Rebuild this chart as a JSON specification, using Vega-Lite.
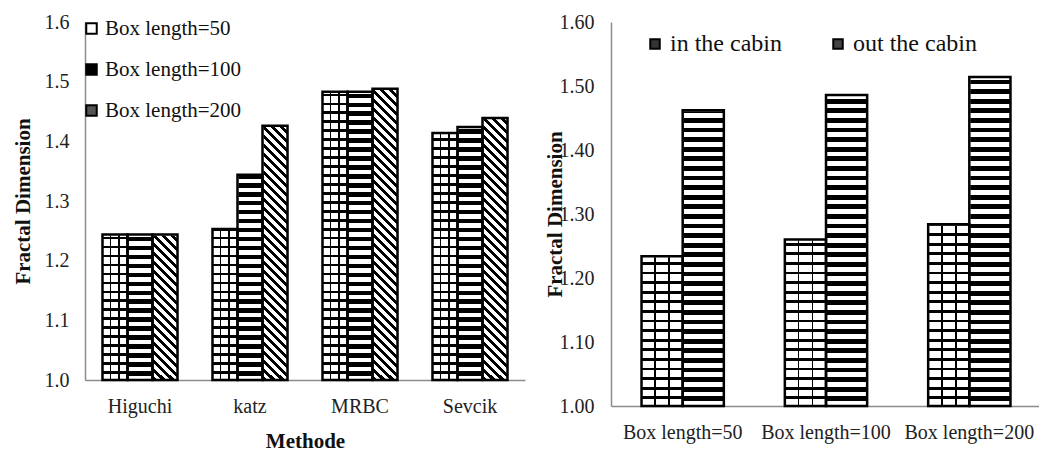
{
"$schema": "https://vega.github.io/schema/vega-lite/v6.json",
"background": "white",
"padding": {"left": 12, "top": 12, "right": 0, "bottom": 0},
"config": {
  "view": {"stroke": null},
  "font": "Liberation Serif",
  "concat": {"spacing": 19},
  "style": {"guide-label": {"font": "Liberation Serif"}, "guide-title": {"font": "Liberation Serif"}},
  "axis": {"labelFont": "Liberation Serif", "titleFont": "Liberation Serif", "labelColor": "#222", "titleColor": "#111", "domainColor": "#8c8c8c", "domainWidth": 1.5, "ticks": false, "grid": false},
  "axisBand": {"grid": false},
  "axisX": {"grid": false},
  "legend": {"labelFont": "Liberation Serif", "labelColor": "#111", "padding": 0}
},
"datasets": {
  "left": [
    {"method": "Higuchi", "box": "Box length=50", "value": 1.244},
    {"method": "Higuchi", "box": "Box length=100", "value": 1.244},
    {"method": "Higuchi", "box": "Box length=200", "value": 1.244},
    {"method": "katz", "box": "Box length=50", "value": 1.253},
    {"method": "katz", "box": "Box length=100", "value": 1.344},
    {"method": "katz", "box": "Box length=200", "value": 1.426},
    {"method": "MRBC", "box": "Box length=50", "value": 1.483},
    {"method": "MRBC", "box": "Box length=100", "value": 1.483},
    {"method": "MRBC", "box": "Box length=200", "value": 1.488},
    {"method": "Sevcik", "box": "Box length=50", "value": 1.414},
    {"method": "Sevcik", "box": "Box length=100", "value": 1.424},
    {"method": "Sevcik", "box": "Box length=200", "value": 1.439}
  ],
  "right": [
    {"box": "Box length=50", "loc": "in the cabin", "value": 1.234},
    {"box": "Box length=50", "loc": "out the cabin", "value": 1.462},
    {"box": "Box length=100", "loc": "in the cabin", "value": 1.26},
    {"box": "Box length=100", "loc": "out the cabin", "value": 1.486},
    {"box": "Box length=200", "loc": "in the cabin", "value": 1.284},
    {"box": "Box length=200", "loc": "out the cabin", "value": 1.514}
  ]
},
"resolve": {"scale": {"x": "independent", "y": "independent", "xOffset": "independent", "fill": "independent"}, "legend": {"fill": "independent"}},
"hconcat": [
{
  "width": 440, "height": 358,
  "data": {"name": "left"},
  "encoding": {
    "x": {"field": "method", "type": "nominal", "sort": ["Higuchi", "katz", "MRBC", "Sevcik"], "scale": {"paddingInner": 0.318, "paddingOuter": 0.159},
          "axis": {"title": "Methode", "grid": false, "labelAngle": 0, "labelFont": "Liberation Serif", "titleFont": "Liberation Serif", "labelFontSize": 20, "labelPadding": 16, "titleFontSize": 21, "titleFontWeight": "bold", "titlePadding": 14}},
    "xOffset": {"field": "box", "type": "nominal", "scale": {"domain": ["Box length=50", "Box length=100", "Box length=200"], "paddingInner": 0, "paddingOuter": 0}}
  },
  "layer": [
    {"transform": [{"filter": "datum.box === 'Box length=50'"}],
     "mark": {"type": "bar", "strokeWidth": 0, "fill": {"gradient": "linear", "x1": 0, "y1": 0, "x2": 0, "y2": 1, "stops": [
{"offset":0,"color":"#000"},{"offset":0.0075,"color":"#000"},{"offset":0.0075,"color":"#fff"},{"offset":0.025,"color":"#fff"},
{"offset":0.025,"color":"#000"},{"offset":0.0325,"color":"#000"},{"offset":0.0325,"color":"#fff"},{"offset":0.05,"color":"#fff"},
{"offset":0.05,"color":"#000"},{"offset":0.0575,"color":"#000"},{"offset":0.0575,"color":"#fff"},{"offset":0.075,"color":"#fff"},
{"offset":0.075,"color":"#000"},{"offset":0.0825,"color":"#000"},{"offset":0.0825,"color":"#fff"},{"offset":0.1,"color":"#fff"},
{"offset":0.1,"color":"#000"},{"offset":0.1075,"color":"#000"},{"offset":0.1075,"color":"#fff"},{"offset":0.125,"color":"#fff"},
{"offset":0.125,"color":"#000"},{"offset":0.1325,"color":"#000"},{"offset":0.1325,"color":"#fff"},{"offset":0.15,"color":"#fff"},
{"offset":0.15,"color":"#000"},{"offset":0.1575,"color":"#000"},{"offset":0.1575,"color":"#fff"},{"offset":0.175,"color":"#fff"},
{"offset":0.175,"color":"#000"},{"offset":0.1825,"color":"#000"},{"offset":0.1825,"color":"#fff"},{"offset":0.2,"color":"#fff"},
{"offset":0.2,"color":"#000"},{"offset":0.2075,"color":"#000"},{"offset":0.2075,"color":"#fff"},{"offset":0.225,"color":"#fff"},
{"offset":0.225,"color":"#000"},{"offset":0.2325,"color":"#000"},{"offset":0.2325,"color":"#fff"},{"offset":0.25,"color":"#fff"},
{"offset":0.25,"color":"#000"},{"offset":0.2575,"color":"#000"},{"offset":0.2575,"color":"#fff"},{"offset":0.275,"color":"#fff"},
{"offset":0.275,"color":"#000"},{"offset":0.2825,"color":"#000"},{"offset":0.2825,"color":"#fff"},{"offset":0.3,"color":"#fff"},
{"offset":0.3,"color":"#000"},{"offset":0.3075,"color":"#000"},{"offset":0.3075,"color":"#fff"},{"offset":0.325,"color":"#fff"},
{"offset":0.325,"color":"#000"},{"offset":0.3325,"color":"#000"},{"offset":0.3325,"color":"#fff"},{"offset":0.35,"color":"#fff"},
{"offset":0.35,"color":"#000"},{"offset":0.3575,"color":"#000"},{"offset":0.3575,"color":"#fff"},{"offset":0.375,"color":"#fff"},
{"offset":0.375,"color":"#000"},{"offset":0.3825,"color":"#000"},{"offset":0.3825,"color":"#fff"},{"offset":0.4,"color":"#fff"},
{"offset":0.4,"color":"#000"},{"offset":0.4075,"color":"#000"},{"offset":0.4075,"color":"#fff"},{"offset":0.425,"color":"#fff"},
{"offset":0.425,"color":"#000"},{"offset":0.4325,"color":"#000"},{"offset":0.4325,"color":"#fff"},{"offset":0.45,"color":"#fff"},
{"offset":0.45,"color":"#000"},{"offset":0.4575,"color":"#000"},{"offset":0.4575,"color":"#fff"},{"offset":0.475,"color":"#fff"},
{"offset":0.475,"color":"#000"},{"offset":0.4825,"color":"#000"},{"offset":0.4825,"color":"#fff"},{"offset":0.5,"color":"#fff"},
{"offset":0.5,"color":"#000"},{"offset":0.5075,"color":"#000"},{"offset":0.5075,"color":"#fff"},{"offset":0.525,"color":"#fff"},
{"offset":0.525,"color":"#000"},{"offset":0.5325,"color":"#000"},{"offset":0.5325,"color":"#fff"},{"offset":0.55,"color":"#fff"},
{"offset":0.55,"color":"#000"},{"offset":0.5575,"color":"#000"},{"offset":0.5575,"color":"#fff"},{"offset":0.575,"color":"#fff"},
{"offset":0.575,"color":"#000"},{"offset":0.5825,"color":"#000"},{"offset":0.5825,"color":"#fff"},{"offset":0.6,"color":"#fff"},
{"offset":0.6,"color":"#000"},{"offset":0.6075,"color":"#000"},{"offset":0.6075,"color":"#fff"},{"offset":0.625,"color":"#fff"},
{"offset":0.625,"color":"#000"},{"offset":0.6325,"color":"#000"},{"offset":0.6325,"color":"#fff"},{"offset":0.65,"color":"#fff"},
{"offset":0.65,"color":"#000"},{"offset":0.6575,"color":"#000"},{"offset":0.6575,"color":"#fff"},{"offset":0.675,"color":"#fff"},
{"offset":0.675,"color":"#000"},{"offset":0.6825,"color":"#000"},{"offset":0.6825,"color":"#fff"},{"offset":0.7,"color":"#fff"},
{"offset":0.7,"color":"#000"},{"offset":0.7075,"color":"#000"},{"offset":0.7075,"color":"#fff"},{"offset":0.725,"color":"#fff"},
{"offset":0.725,"color":"#000"},{"offset":0.7325,"color":"#000"},{"offset":0.7325,"color":"#fff"},{"offset":0.75,"color":"#fff"},
{"offset":0.75,"color":"#000"},{"offset":0.7575,"color":"#000"},{"offset":0.7575,"color":"#fff"},{"offset":0.775,"color":"#fff"},
{"offset":0.775,"color":"#000"},{"offset":0.7825,"color":"#000"},{"offset":0.7825,"color":"#fff"},{"offset":0.8,"color":"#fff"},
{"offset":0.8,"color":"#000"},{"offset":0.8075,"color":"#000"},{"offset":0.8075,"color":"#fff"},{"offset":0.825,"color":"#fff"},
{"offset":0.825,"color":"#000"},{"offset":0.8325,"color":"#000"},{"offset":0.8325,"color":"#fff"},{"offset":0.85,"color":"#fff"},
{"offset":0.85,"color":"#000"},{"offset":0.8575,"color":"#000"},{"offset":0.8575,"color":"#fff"},{"offset":0.875,"color":"#fff"},
{"offset":0.875,"color":"#000"},{"offset":0.8825,"color":"#000"},{"offset":0.8825,"color":"#fff"},{"offset":0.9,"color":"#fff"},
{"offset":0.9,"color":"#000"},{"offset":0.9075,"color":"#000"},{"offset":0.9075,"color":"#fff"},{"offset":0.925,"color":"#fff"},
{"offset":0.925,"color":"#000"},{"offset":0.9325,"color":"#000"},{"offset":0.9325,"color":"#fff"},{"offset":0.95,"color":"#fff"},
{"offset":0.95,"color":"#000"},{"offset":0.9575,"color":"#000"},{"offset":0.9575,"color":"#fff"},{"offset":0.975,"color":"#fff"},
{"offset":0.975,"color":"#000"},{"offset":0.9825,"color":"#000"},{"offset":0.9825,"color":"#fff"},{"offset":1,"color":"#fff"}
     ]}},
     "encoding": {
       "y": {"datum": 1.6, "type": "quantitative", "title": "Fractal Dimension",
             "scale": {"domain": [1.0, 1.6], "zero": false, "nice": false},
             "axis": {"values": [1.0, 1.1, 1.2, 1.3, 1.4, 1.5, 1.6], "format": ".1f", "grid": false, "labelFont": "Liberation Serif", "titleFont": "Liberation Serif", "labelFontSize": 20, "labelPadding": 16, "titleFontSize": 21, "titleFontWeight": "bold", "titleX": -52}},
       "y2": {"datum": 1.0}
     }},
    {"transform": [{"filter": "datum.box === 'Box length=50'"}],
     "mark": {"type": "bar", "strokeWidth": 0, "fill": {"gradient": "linear", "x1": 0, "y1": 0, "x2": 1, "y2": 0, "stops": [
{"offset":0,"color":"rgba(0,0,0,0)"},{"offset":0.3,"color":"rgba(0,0,0,0)"},{"offset":0.3,"color":"#000"},{"offset":0.36,"color":"#000"},{"offset":0.36,"color":"rgba(0,0,0,0)"},
{"offset":0.64,"color":"rgba(0,0,0,0)"},{"offset":0.64,"color":"#000"},{"offset":0.7,"color":"#000"},{"offset":0.7,"color":"rgba(0,0,0,0)"},{"offset":1,"color":"rgba(0,0,0,0)"}
     ]}},
     "encoding": {"y": {"datum": 1.6, "type": "quantitative", "title": "Fractal Dimension"}, "y2": {"datum": 1.0}}},
    {"transform": [{"filter": "datum.box === 'Box length=100'"}],
     "mark": {"type": "bar", "strokeWidth": 0, "fill": {"gradient": "linear", "x1": 0, "y1": 0, "x2": 0, "y2": 1, "stops": [
{"offset":0,"color":"#000"},{"offset":0.0125,"color":"#000"},{"offset":0.0125,"color":"#fff"},{"offset":0.025,"color":"#fff"},
{"offset":0.025,"color":"#000"},{"offset":0.0375,"color":"#000"},{"offset":0.0375,"color":"#fff"},{"offset":0.05,"color":"#fff"},
{"offset":0.05,"color":"#000"},{"offset":0.0625,"color":"#000"},{"offset":0.0625,"color":"#fff"},{"offset":0.075,"color":"#fff"},
{"offset":0.075,"color":"#000"},{"offset":0.0875,"color":"#000"},{"offset":0.0875,"color":"#fff"},{"offset":0.1,"color":"#fff"},
{"offset":0.1,"color":"#000"},{"offset":0.1125,"color":"#000"},{"offset":0.1125,"color":"#fff"},{"offset":0.125,"color":"#fff"},
{"offset":0.125,"color":"#000"},{"offset":0.1375,"color":"#000"},{"offset":0.1375,"color":"#fff"},{"offset":0.15,"color":"#fff"},
{"offset":0.15,"color":"#000"},{"offset":0.1625,"color":"#000"},{"offset":0.1625,"color":"#fff"},{"offset":0.175,"color":"#fff"},
{"offset":0.175,"color":"#000"},{"offset":0.1875,"color":"#000"},{"offset":0.1875,"color":"#fff"},{"offset":0.2,"color":"#fff"},
{"offset":0.2,"color":"#000"},{"offset":0.2125,"color":"#000"},{"offset":0.2125,"color":"#fff"},{"offset":0.225,"color":"#fff"},
{"offset":0.225,"color":"#000"},{"offset":0.2375,"color":"#000"},{"offset":0.2375,"color":"#fff"},{"offset":0.25,"color":"#fff"},
{"offset":0.25,"color":"#000"},{"offset":0.2625,"color":"#000"},{"offset":0.2625,"color":"#fff"},{"offset":0.275,"color":"#fff"},
{"offset":0.275,"color":"#000"},{"offset":0.2875,"color":"#000"},{"offset":0.2875,"color":"#fff"},{"offset":0.3,"color":"#fff"},
{"offset":0.3,"color":"#000"},{"offset":0.3125,"color":"#000"},{"offset":0.3125,"color":"#fff"},{"offset":0.325,"color":"#fff"},
{"offset":0.325,"color":"#000"},{"offset":0.3375,"color":"#000"},{"offset":0.3375,"color":"#fff"},{"offset":0.35,"color":"#fff"},
{"offset":0.35,"color":"#000"},{"offset":0.3625,"color":"#000"},{"offset":0.3625,"color":"#fff"},{"offset":0.375,"color":"#fff"},
{"offset":0.375,"color":"#000"},{"offset":0.3875,"color":"#000"},{"offset":0.3875,"color":"#fff"},{"offset":0.4,"color":"#fff"},
{"offset":0.4,"color":"#000"},{"offset":0.4125,"color":"#000"},{"offset":0.4125,"color":"#fff"},{"offset":0.425,"color":"#fff"},
{"offset":0.425,"color":"#000"},{"offset":0.4375,"color":"#000"},{"offset":0.4375,"color":"#fff"},{"offset":0.45,"color":"#fff"},
{"offset":0.45,"color":"#000"},{"offset":0.4625,"color":"#000"},{"offset":0.4625,"color":"#fff"},{"offset":0.475,"color":"#fff"},
{"offset":0.475,"color":"#000"},{"offset":0.4875,"color":"#000"},{"offset":0.4875,"color":"#fff"},{"offset":0.5,"color":"#fff"},
{"offset":0.5,"color":"#000"},{"offset":0.5125,"color":"#000"},{"offset":0.5125,"color":"#fff"},{"offset":0.525,"color":"#fff"},
{"offset":0.525,"color":"#000"},{"offset":0.5375,"color":"#000"},{"offset":0.5375,"color":"#fff"},{"offset":0.55,"color":"#fff"},
{"offset":0.55,"color":"#000"},{"offset":0.5625,"color":"#000"},{"offset":0.5625,"color":"#fff"},{"offset":0.575,"color":"#fff"},
{"offset":0.575,"color":"#000"},{"offset":0.5875,"color":"#000"},{"offset":0.5875,"color":"#fff"},{"offset":0.6,"color":"#fff"},
{"offset":0.6,"color":"#000"},{"offset":0.6125,"color":"#000"},{"offset":0.6125,"color":"#fff"},{"offset":0.625,"color":"#fff"},
{"offset":0.625,"color":"#000"},{"offset":0.6375,"color":"#000"},{"offset":0.6375,"color":"#fff"},{"offset":0.65,"color":"#fff"},
{"offset":0.65,"color":"#000"},{"offset":0.6625,"color":"#000"},{"offset":0.6625,"color":"#fff"},{"offset":0.675,"color":"#fff"},
{"offset":0.675,"color":"#000"},{"offset":0.6875,"color":"#000"},{"offset":0.6875,"color":"#fff"},{"offset":0.7,"color":"#fff"},
{"offset":0.7,"color":"#000"},{"offset":0.7125,"color":"#000"},{"offset":0.7125,"color":"#fff"},{"offset":0.725,"color":"#fff"},
{"offset":0.725,"color":"#000"},{"offset":0.7375,"color":"#000"},{"offset":0.7375,"color":"#fff"},{"offset":0.75,"color":"#fff"},
{"offset":0.75,"color":"#000"},{"offset":0.7625,"color":"#000"},{"offset":0.7625,"color":"#fff"},{"offset":0.775,"color":"#fff"},
{"offset":0.775,"color":"#000"},{"offset":0.7875,"color":"#000"},{"offset":0.7875,"color":"#fff"},{"offset":0.8,"color":"#fff"},
{"offset":0.8,"color":"#000"},{"offset":0.8125,"color":"#000"},{"offset":0.8125,"color":"#fff"},{"offset":0.825,"color":"#fff"},
{"offset":0.825,"color":"#000"},{"offset":0.8375,"color":"#000"},{"offset":0.8375,"color":"#fff"},{"offset":0.85,"color":"#fff"},
{"offset":0.85,"color":"#000"},{"offset":0.8625,"color":"#000"},{"offset":0.8625,"color":"#fff"},{"offset":0.875,"color":"#fff"},
{"offset":0.875,"color":"#000"},{"offset":0.8875,"color":"#000"},{"offset":0.8875,"color":"#fff"},{"offset":0.9,"color":"#fff"},
{"offset":0.9,"color":"#000"},{"offset":0.9125,"color":"#000"},{"offset":0.9125,"color":"#fff"},{"offset":0.925,"color":"#fff"},
{"offset":0.925,"color":"#000"},{"offset":0.9375,"color":"#000"},{"offset":0.9375,"color":"#fff"},{"offset":0.95,"color":"#fff"},
{"offset":0.95,"color":"#000"},{"offset":0.9625,"color":"#000"},{"offset":0.9625,"color":"#fff"},{"offset":0.975,"color":"#fff"},
{"offset":0.975,"color":"#000"},{"offset":0.9875,"color":"#000"},{"offset":0.9875,"color":"#fff"},{"offset":1,"color":"#fff"}
     ]}},
     "encoding": {"y": {"datum": 1.6, "type": "quantitative", "title": "Fractal Dimension"}, "y2": {"datum": 1.0}}},
    {"transform": [{"filter": "datum.box === 'Box length=200'"}],
     "mark": {"type": "bar", "strokeWidth": 0, "fill": {"gradient": "linear", "x1": 0, "y1": 1, "x2": 0.0698, "y2": 0, "stops": [
{"offset":0,"color":"#000"},{"offset":0.0125,"color":"#000"},{"offset":0.0125,"color":"#fff"},{"offset":0.025,"color":"#fff"},
{"offset":0.025,"color":"#000"},{"offset":0.0375,"color":"#000"},{"offset":0.0375,"color":"#fff"},{"offset":0.05,"color":"#fff"},
{"offset":0.05,"color":"#000"},{"offset":0.0625,"color":"#000"},{"offset":0.0625,"color":"#fff"},{"offset":0.075,"color":"#fff"},
{"offset":0.075,"color":"#000"},{"offset":0.0875,"color":"#000"},{"offset":0.0875,"color":"#fff"},{"offset":0.1,"color":"#fff"},
{"offset":0.1,"color":"#000"},{"offset":0.1125,"color":"#000"},{"offset":0.1125,"color":"#fff"},{"offset":0.125,"color":"#fff"},
{"offset":0.125,"color":"#000"},{"offset":0.1375,"color":"#000"},{"offset":0.1375,"color":"#fff"},{"offset":0.15,"color":"#fff"},
{"offset":0.15,"color":"#000"},{"offset":0.1625,"color":"#000"},{"offset":0.1625,"color":"#fff"},{"offset":0.175,"color":"#fff"},
{"offset":0.175,"color":"#000"},{"offset":0.1875,"color":"#000"},{"offset":0.1875,"color":"#fff"},{"offset":0.2,"color":"#fff"},
{"offset":0.2,"color":"#000"},{"offset":0.2125,"color":"#000"},{"offset":0.2125,"color":"#fff"},{"offset":0.225,"color":"#fff"},
{"offset":0.225,"color":"#000"},{"offset":0.2375,"color":"#000"},{"offset":0.2375,"color":"#fff"},{"offset":0.25,"color":"#fff"},
{"offset":0.25,"color":"#000"},{"offset":0.2625,"color":"#000"},{"offset":0.2625,"color":"#fff"},{"offset":0.275,"color":"#fff"},
{"offset":0.275,"color":"#000"},{"offset":0.2875,"color":"#000"},{"offset":0.2875,"color":"#fff"},{"offset":0.3,"color":"#fff"},
{"offset":0.3,"color":"#000"},{"offset":0.3125,"color":"#000"},{"offset":0.3125,"color":"#fff"},{"offset":0.325,"color":"#fff"},
{"offset":0.325,"color":"#000"},{"offset":0.3375,"color":"#000"},{"offset":0.3375,"color":"#fff"},{"offset":0.35,"color":"#fff"},
{"offset":0.35,"color":"#000"},{"offset":0.3625,"color":"#000"},{"offset":0.3625,"color":"#fff"},{"offset":0.375,"color":"#fff"},
{"offset":0.375,"color":"#000"},{"offset":0.3875,"color":"#000"},{"offset":0.3875,"color":"#fff"},{"offset":0.4,"color":"#fff"},
{"offset":0.4,"color":"#000"},{"offset":0.4125,"color":"#000"},{"offset":0.4125,"color":"#fff"},{"offset":0.425,"color":"#fff"},
{"offset":0.425,"color":"#000"},{"offset":0.4375,"color":"#000"},{"offset":0.4375,"color":"#fff"},{"offset":0.45,"color":"#fff"},
{"offset":0.45,"color":"#000"},{"offset":0.4625,"color":"#000"},{"offset":0.4625,"color":"#fff"},{"offset":0.475,"color":"#fff"},
{"offset":0.475,"color":"#000"},{"offset":0.4875,"color":"#000"},{"offset":0.4875,"color":"#fff"},{"offset":0.5,"color":"#fff"},
{"offset":0.5,"color":"#000"},{"offset":0.5125,"color":"#000"},{"offset":0.5125,"color":"#fff"},{"offset":0.525,"color":"#fff"},
{"offset":0.525,"color":"#000"},{"offset":0.5375,"color":"#000"},{"offset":0.5375,"color":"#fff"},{"offset":0.55,"color":"#fff"},
{"offset":0.55,"color":"#000"},{"offset":0.5625,"color":"#000"},{"offset":0.5625,"color":"#fff"},{"offset":0.575,"color":"#fff"},
{"offset":0.575,"color":"#000"},{"offset":0.5875,"color":"#000"},{"offset":0.5875,"color":"#fff"},{"offset":0.6,"color":"#fff"},
{"offset":0.6,"color":"#000"},{"offset":0.6125,"color":"#000"},{"offset":0.6125,"color":"#fff"},{"offset":0.625,"color":"#fff"},
{"offset":0.625,"color":"#000"},{"offset":0.6375,"color":"#000"},{"offset":0.6375,"color":"#fff"},{"offset":0.65,"color":"#fff"},
{"offset":0.65,"color":"#000"},{"offset":0.6625,"color":"#000"},{"offset":0.6625,"color":"#fff"},{"offset":0.675,"color":"#fff"},
{"offset":0.675,"color":"#000"},{"offset":0.6875,"color":"#000"},{"offset":0.6875,"color":"#fff"},{"offset":0.7,"color":"#fff"},
{"offset":0.7,"color":"#000"},{"offset":0.7125,"color":"#000"},{"offset":0.7125,"color":"#fff"},{"offset":0.725,"color":"#fff"},
{"offset":0.725,"color":"#000"},{"offset":0.7375,"color":"#000"},{"offset":0.7375,"color":"#fff"},{"offset":0.75,"color":"#fff"},
{"offset":0.75,"color":"#000"},{"offset":0.7625,"color":"#000"},{"offset":0.7625,"color":"#fff"},{"offset":0.775,"color":"#fff"},
{"offset":0.775,"color":"#000"},{"offset":0.7875,"color":"#000"},{"offset":0.7875,"color":"#fff"},{"offset":0.8,"color":"#fff"},
{"offset":0.8,"color":"#000"},{"offset":0.8125,"color":"#000"},{"offset":0.8125,"color":"#fff"},{"offset":0.825,"color":"#fff"},
{"offset":0.825,"color":"#000"},{"offset":0.8375,"color":"#000"},{"offset":0.8375,"color":"#fff"},{"offset":0.85,"color":"#fff"},
{"offset":0.85,"color":"#000"},{"offset":0.8625,"color":"#000"},{"offset":0.8625,"color":"#fff"},{"offset":0.875,"color":"#fff"},
{"offset":0.875,"color":"#000"},{"offset":0.8875,"color":"#000"},{"offset":0.8875,"color":"#fff"},{"offset":0.9,"color":"#fff"},
{"offset":0.9,"color":"#000"},{"offset":0.9125,"color":"#000"},{"offset":0.9125,"color":"#fff"},{"offset":0.925,"color":"#fff"},
{"offset":0.925,"color":"#000"},{"offset":0.9375,"color":"#000"},{"offset":0.9375,"color":"#fff"},{"offset":0.95,"color":"#fff"},
{"offset":0.95,"color":"#000"},{"offset":0.9625,"color":"#000"},{"offset":0.9625,"color":"#fff"},{"offset":0.975,"color":"#fff"},
{"offset":0.975,"color":"#000"},{"offset":0.9875,"color":"#000"},{"offset":0.9875,"color":"#fff"},{"offset":1,"color":"#fff"}
     ]}},
     "encoding": {"y": {"datum": 1.6, "type": "quantitative", "title": "Fractal Dimension"}, "y2": {"datum": 1.0}}},
    {"mark": {"type": "bar", "fill": "white", "stroke": "white", "strokeWidth": 2},
     "encoding": {"y": {"field": "value", "type": "quantitative", "title": "Fractal Dimension"}, "y2": {"datum": 1.6}}},
    {"mark": {"type": "bar", "stroke": "black", "strokeWidth": 2.5},
     "encoding": {
       "y": {"field": "value", "type": "quantitative", "title": "Fractal Dimension"},
       "y2": {"datum": 1.0},
       "fillOpacity": {"value": 0},
       "fill": {"field": "box", "type": "nominal",
                "scale": {"domain": ["Box length=50", "Box length=100", "Box length=200"], "range": ["white", "black", "#555555"]},
                "legend": {"title": null, "orient": "none", "legendX": -4, "legendY": -4, "direction": "vertical", "symbolType": "square", "symbolSize": 110, "symbolStrokeWidth": 2, "symbolStrokeColor": "black", "symbolOpacity": 1, "labelFont": "Liberation Serif", "labelFontSize": 21, "labelOffset": 3, "rowPadding": 19}}
     }}
  ]
},
{
  "width": 430, "height": 384,
  "data": {"name": "right"},
  "encoding": {
    "x": {"field": "box", "type": "nominal", "sort": ["Box length=50", "Box length=100", "Box length=200"], "scale": {"paddingInner": 0.4257, "paddingOuter": 0.213},
          "axis": {"title": null, "grid": false, "labelAngle": 0, "labelFont": "Liberation Serif", "labelFontSize": 20, "labelPadding": 16}},
    "xOffset": {"field": "loc", "type": "nominal", "scale": {"domain": ["in the cabin", "out the cabin"], "paddingInner": 0, "paddingOuter": 0}}
  },
  "layer": [
    {"transform": [{"filter": "datum.loc === 'in the cabin'"}],
     "mark": {"type": "bar", "strokeWidth": 0, "fill": {"gradient": "linear", "x1": 0, "y1": 0, "x2": 0, "y2": 1, "stops": [
{"offset":0,"color":"#000"},{"offset":0.0075,"color":"#000"},{"offset":0.0075,"color":"#fff"},{"offset":0.025,"color":"#fff"},
{"offset":0.025,"color":"#000"},{"offset":0.0325,"color":"#000"},{"offset":0.0325,"color":"#fff"},{"offset":0.05,"color":"#fff"},
{"offset":0.05,"color":"#000"},{"offset":0.0575,"color":"#000"},{"offset":0.0575,"color":"#fff"},{"offset":0.075,"color":"#fff"},
{"offset":0.075,"color":"#000"},{"offset":0.0825,"color":"#000"},{"offset":0.0825,"color":"#fff"},{"offset":0.1,"color":"#fff"},
{"offset":0.1,"color":"#000"},{"offset":0.1075,"color":"#000"},{"offset":0.1075,"color":"#fff"},{"offset":0.125,"color":"#fff"},
{"offset":0.125,"color":"#000"},{"offset":0.1325,"color":"#000"},{"offset":0.1325,"color":"#fff"},{"offset":0.15,"color":"#fff"},
{"offset":0.15,"color":"#000"},{"offset":0.1575,"color":"#000"},{"offset":0.1575,"color":"#fff"},{"offset":0.175,"color":"#fff"},
{"offset":0.175,"color":"#000"},{"offset":0.1825,"color":"#000"},{"offset":0.1825,"color":"#fff"},{"offset":0.2,"color":"#fff"},
{"offset":0.2,"color":"#000"},{"offset":0.2075,"color":"#000"},{"offset":0.2075,"color":"#fff"},{"offset":0.225,"color":"#fff"},
{"offset":0.225,"color":"#000"},{"offset":0.2325,"color":"#000"},{"offset":0.2325,"color":"#fff"},{"offset":0.25,"color":"#fff"},
{"offset":0.25,"color":"#000"},{"offset":0.2575,"color":"#000"},{"offset":0.2575,"color":"#fff"},{"offset":0.275,"color":"#fff"},
{"offset":0.275,"color":"#000"},{"offset":0.2825,"color":"#000"},{"offset":0.2825,"color":"#fff"},{"offset":0.3,"color":"#fff"},
{"offset":0.3,"color":"#000"},{"offset":0.3075,"color":"#000"},{"offset":0.3075,"color":"#fff"},{"offset":0.325,"color":"#fff"},
{"offset":0.325,"color":"#000"},{"offset":0.3325,"color":"#000"},{"offset":0.3325,"color":"#fff"},{"offset":0.35,"color":"#fff"},
{"offset":0.35,"color":"#000"},{"offset":0.3575,"color":"#000"},{"offset":0.3575,"color":"#fff"},{"offset":0.375,"color":"#fff"},
{"offset":0.375,"color":"#000"},{"offset":0.3825,"color":"#000"},{"offset":0.3825,"color":"#fff"},{"offset":0.4,"color":"#fff"},
{"offset":0.4,"color":"#000"},{"offset":0.4075,"color":"#000"},{"offset":0.4075,"color":"#fff"},{"offset":0.425,"color":"#fff"},
{"offset":0.425,"color":"#000"},{"offset":0.4325,"color":"#000"},{"offset":0.4325,"color":"#fff"},{"offset":0.45,"color":"#fff"},
{"offset":0.45,"color":"#000"},{"offset":0.4575,"color":"#000"},{"offset":0.4575,"color":"#fff"},{"offset":0.475,"color":"#fff"},
{"offset":0.475,"color":"#000"},{"offset":0.4825,"color":"#000"},{"offset":0.4825,"color":"#fff"},{"offset":0.5,"color":"#fff"},
{"offset":0.5,"color":"#000"},{"offset":0.5075,"color":"#000"},{"offset":0.5075,"color":"#fff"},{"offset":0.525,"color":"#fff"},
{"offset":0.525,"color":"#000"},{"offset":0.5325,"color":"#000"},{"offset":0.5325,"color":"#fff"},{"offset":0.55,"color":"#fff"},
{"offset":0.55,"color":"#000"},{"offset":0.5575,"color":"#000"},{"offset":0.5575,"color":"#fff"},{"offset":0.575,"color":"#fff"},
{"offset":0.575,"color":"#000"},{"offset":0.5825,"color":"#000"},{"offset":0.5825,"color":"#fff"},{"offset":0.6,"color":"#fff"},
{"offset":0.6,"color":"#000"},{"offset":0.6075,"color":"#000"},{"offset":0.6075,"color":"#fff"},{"offset":0.625,"color":"#fff"},
{"offset":0.625,"color":"#000"},{"offset":0.6325,"color":"#000"},{"offset":0.6325,"color":"#fff"},{"offset":0.65,"color":"#fff"},
{"offset":0.65,"color":"#000"},{"offset":0.6575,"color":"#000"},{"offset":0.6575,"color":"#fff"},{"offset":0.675,"color":"#fff"},
{"offset":0.675,"color":"#000"},{"offset":0.6825,"color":"#000"},{"offset":0.6825,"color":"#fff"},{"offset":0.7,"color":"#fff"},
{"offset":0.7,"color":"#000"},{"offset":0.7075,"color":"#000"},{"offset":0.7075,"color":"#fff"},{"offset":0.725,"color":"#fff"},
{"offset":0.725,"color":"#000"},{"offset":0.7325,"color":"#000"},{"offset":0.7325,"color":"#fff"},{"offset":0.75,"color":"#fff"},
{"offset":0.75,"color":"#000"},{"offset":0.7575,"color":"#000"},{"offset":0.7575,"color":"#fff"},{"offset":0.775,"color":"#fff"},
{"offset":0.775,"color":"#000"},{"offset":0.7825,"color":"#000"},{"offset":0.7825,"color":"#fff"},{"offset":0.8,"color":"#fff"},
{"offset":0.8,"color":"#000"},{"offset":0.8075,"color":"#000"},{"offset":0.8075,"color":"#fff"},{"offset":0.825,"color":"#fff"},
{"offset":0.825,"color":"#000"},{"offset":0.8325,"color":"#000"},{"offset":0.8325,"color":"#fff"},{"offset":0.85,"color":"#fff"},
{"offset":0.85,"color":"#000"},{"offset":0.8575,"color":"#000"},{"offset":0.8575,"color":"#fff"},{"offset":0.875,"color":"#fff"},
{"offset":0.875,"color":"#000"},{"offset":0.8825,"color":"#000"},{"offset":0.8825,"color":"#fff"},{"offset":0.9,"color":"#fff"},
{"offset":0.9,"color":"#000"},{"offset":0.9075,"color":"#000"},{"offset":0.9075,"color":"#fff"},{"offset":0.925,"color":"#fff"},
{"offset":0.925,"color":"#000"},{"offset":0.9325,"color":"#000"},{"offset":0.9325,"color":"#fff"},{"offset":0.95,"color":"#fff"},
{"offset":0.95,"color":"#000"},{"offset":0.9575,"color":"#000"},{"offset":0.9575,"color":"#fff"},{"offset":0.975,"color":"#fff"},
{"offset":0.975,"color":"#000"},{"offset":0.9825,"color":"#000"},{"offset":0.9825,"color":"#fff"},{"offset":1,"color":"#fff"}
     ]}},
     "encoding": {
       "y": {"datum": 1.6, "type": "quantitative", "title": "Fractal Dimension",
             "scale": {"domain": [1.0, 1.6], "zero": false, "nice": false},
             "axis": {"values": [1.0, 1.1, 1.2, 1.3, 1.4, 1.5, 1.6], "format": ".2f", "grid": false, "labelFont": "Liberation Serif", "titleFont": "Liberation Serif", "labelFontSize": 20, "labelPadding": 17, "titleFontSize": 21, "titleFontWeight": "bold", "titleX": -46}},
       "y2": {"datum": 1.0}
     }},
    {"transform": [{"filter": "datum.loc === 'in the cabin'"}],
     "mark": {"type": "bar", "strokeWidth": 0, "fill": {"gradient": "linear", "x1": 0, "y1": 0, "x2": 1, "y2": 0, "stops": [
{"offset":0,"color":"rgba(0,0,0,0)"},{"offset":0.31,"color":"rgba(0,0,0,0)"},{"offset":0.31,"color":"#000"},{"offset":0.35,"color":"#000"},{"offset":0.35,"color":"rgba(0,0,0,0)"},
{"offset":0.65,"color":"rgba(0,0,0,0)"},{"offset":0.65,"color":"#000"},{"offset":0.69,"color":"#000"},{"offset":0.69,"color":"rgba(0,0,0,0)"},{"offset":1,"color":"rgba(0,0,0,0)"}
     ]}},
     "encoding": {"y": {"datum": 1.6, "type": "quantitative", "title": "Fractal Dimension"}, "y2": {"datum": 1.0}}},
    {"transform": [{"filter": "datum.loc === 'out the cabin'"}],
     "mark": {"type": "bar", "strokeWidth": 0, "fill": {"gradient": "linear", "x1": 0, "y1": 0, "x2": 0, "y2": 1, "stops": [
{"offset":0,"color":"#000"},{"offset":0.0125,"color":"#000"},{"offset":0.0125,"color":"#fff"},{"offset":0.025,"color":"#fff"},
{"offset":0.025,"color":"#000"},{"offset":0.0375,"color":"#000"},{"offset":0.0375,"color":"#fff"},{"offset":0.05,"color":"#fff"},
{"offset":0.05,"color":"#000"},{"offset":0.0625,"color":"#000"},{"offset":0.0625,"color":"#fff"},{"offset":0.075,"color":"#fff"},
{"offset":0.075,"color":"#000"},{"offset":0.0875,"color":"#000"},{"offset":0.0875,"color":"#fff"},{"offset":0.1,"color":"#fff"},
{"offset":0.1,"color":"#000"},{"offset":0.1125,"color":"#000"},{"offset":0.1125,"color":"#fff"},{"offset":0.125,"color":"#fff"},
{"offset":0.125,"color":"#000"},{"offset":0.1375,"color":"#000"},{"offset":0.1375,"color":"#fff"},{"offset":0.15,"color":"#fff"},
{"offset":0.15,"color":"#000"},{"offset":0.1625,"color":"#000"},{"offset":0.1625,"color":"#fff"},{"offset":0.175,"color":"#fff"},
{"offset":0.175,"color":"#000"},{"offset":0.1875,"color":"#000"},{"offset":0.1875,"color":"#fff"},{"offset":0.2,"color":"#fff"},
{"offset":0.2,"color":"#000"},{"offset":0.2125,"color":"#000"},{"offset":0.2125,"color":"#fff"},{"offset":0.225,"color":"#fff"},
{"offset":0.225,"color":"#000"},{"offset":0.2375,"color":"#000"},{"offset":0.2375,"color":"#fff"},{"offset":0.25,"color":"#fff"},
{"offset":0.25,"color":"#000"},{"offset":0.2625,"color":"#000"},{"offset":0.2625,"color":"#fff"},{"offset":0.275,"color":"#fff"},
{"offset":0.275,"color":"#000"},{"offset":0.2875,"color":"#000"},{"offset":0.2875,"color":"#fff"},{"offset":0.3,"color":"#fff"},
{"offset":0.3,"color":"#000"},{"offset":0.3125,"color":"#000"},{"offset":0.3125,"color":"#fff"},{"offset":0.325,"color":"#fff"},
{"offset":0.325,"color":"#000"},{"offset":0.3375,"color":"#000"},{"offset":0.3375,"color":"#fff"},{"offset":0.35,"color":"#fff"},
{"offset":0.35,"color":"#000"},{"offset":0.3625,"color":"#000"},{"offset":0.3625,"color":"#fff"},{"offset":0.375,"color":"#fff"},
{"offset":0.375,"color":"#000"},{"offset":0.3875,"color":"#000"},{"offset":0.3875,"color":"#fff"},{"offset":0.4,"color":"#fff"},
{"offset":0.4,"color":"#000"},{"offset":0.4125,"color":"#000"},{"offset":0.4125,"color":"#fff"},{"offset":0.425,"color":"#fff"},
{"offset":0.425,"color":"#000"},{"offset":0.4375,"color":"#000"},{"offset":0.4375,"color":"#fff"},{"offset":0.45,"color":"#fff"},
{"offset":0.45,"color":"#000"},{"offset":0.4625,"color":"#000"},{"offset":0.4625,"color":"#fff"},{"offset":0.475,"color":"#fff"},
{"offset":0.475,"color":"#000"},{"offset":0.4875,"color":"#000"},{"offset":0.4875,"color":"#fff"},{"offset":0.5,"color":"#fff"},
{"offset":0.5,"color":"#000"},{"offset":0.5125,"color":"#000"},{"offset":0.5125,"color":"#fff"},{"offset":0.525,"color":"#fff"},
{"offset":0.525,"color":"#000"},{"offset":0.5375,"color":"#000"},{"offset":0.5375,"color":"#fff"},{"offset":0.55,"color":"#fff"},
{"offset":0.55,"color":"#000"},{"offset":0.5625,"color":"#000"},{"offset":0.5625,"color":"#fff"},{"offset":0.575,"color":"#fff"},
{"offset":0.575,"color":"#000"},{"offset":0.5875,"color":"#000"},{"offset":0.5875,"color":"#fff"},{"offset":0.6,"color":"#fff"},
{"offset":0.6,"color":"#000"},{"offset":0.6125,"color":"#000"},{"offset":0.6125,"color":"#fff"},{"offset":0.625,"color":"#fff"},
{"offset":0.625,"color":"#000"},{"offset":0.6375,"color":"#000"},{"offset":0.6375,"color":"#fff"},{"offset":0.65,"color":"#fff"},
{"offset":0.65,"color":"#000"},{"offset":0.6625,"color":"#000"},{"offset":0.6625,"color":"#fff"},{"offset":0.675,"color":"#fff"},
{"offset":0.675,"color":"#000"},{"offset":0.6875,"color":"#000"},{"offset":0.6875,"color":"#fff"},{"offset":0.7,"color":"#fff"},
{"offset":0.7,"color":"#000"},{"offset":0.7125,"color":"#000"},{"offset":0.7125,"color":"#fff"},{"offset":0.725,"color":"#fff"},
{"offset":0.725,"color":"#000"},{"offset":0.7375,"color":"#000"},{"offset":0.7375,"color":"#fff"},{"offset":0.75,"color":"#fff"},
{"offset":0.75,"color":"#000"},{"offset":0.7625,"color":"#000"},{"offset":0.7625,"color":"#fff"},{"offset":0.775,"color":"#fff"},
{"offset":0.775,"color":"#000"},{"offset":0.7875,"color":"#000"},{"offset":0.7875,"color":"#fff"},{"offset":0.8,"color":"#fff"},
{"offset":0.8,"color":"#000"},{"offset":0.8125,"color":"#000"},{"offset":0.8125,"color":"#fff"},{"offset":0.825,"color":"#fff"},
{"offset":0.825,"color":"#000"},{"offset":0.8375,"color":"#000"},{"offset":0.8375,"color":"#fff"},{"offset":0.85,"color":"#fff"},
{"offset":0.85,"color":"#000"},{"offset":0.8625,"color":"#000"},{"offset":0.8625,"color":"#fff"},{"offset":0.875,"color":"#fff"},
{"offset":0.875,"color":"#000"},{"offset":0.8875,"color":"#000"},{"offset":0.8875,"color":"#fff"},{"offset":0.9,"color":"#fff"},
{"offset":0.9,"color":"#000"},{"offset":0.9125,"color":"#000"},{"offset":0.9125,"color":"#fff"},{"offset":0.925,"color":"#fff"},
{"offset":0.925,"color":"#000"},{"offset":0.9375,"color":"#000"},{"offset":0.9375,"color":"#fff"},{"offset":0.95,"color":"#fff"},
{"offset":0.95,"color":"#000"},{"offset":0.9625,"color":"#000"},{"offset":0.9625,"color":"#fff"},{"offset":0.975,"color":"#fff"},
{"offset":0.975,"color":"#000"},{"offset":0.9875,"color":"#000"},{"offset":0.9875,"color":"#fff"},{"offset":1,"color":"#fff"}
     ]}},
     "encoding": {"y": {"datum": 1.6, "type": "quantitative", "title": "Fractal Dimension"}, "y2": {"datum": 1.0}}},
    {"mark": {"type": "bar", "fill": "white", "stroke": "white", "strokeWidth": 2},
     "encoding": {"y": {"field": "value", "type": "quantitative", "title": "Fractal Dimension"}, "y2": {"datum": 1.6}}},
    {"mark": {"type": "bar", "stroke": "black", "strokeWidth": 2.5},
     "encoding": {
       "y": {"field": "value", "type": "quantitative", "title": "Fractal Dimension"},
       "y2": {"datum": 1.0},
       "fillOpacity": {"value": 0},
       "fill": {"field": "loc", "type": "nominal",
                "scale": {"domain": ["in the cabin", "out the cabin"], "range": ["#333333", "#444444"]},
                "legend": {"title": null, "orient": "none", "legendX": 32, "legendY": 10, "direction": "horizontal", "symbolType": "square", "symbolSize": 90, "symbolStrokeWidth": 2, "symbolStrokeColor": "black", "symbolOpacity": 1, "labelFont": "Liberation Serif", "labelFontSize": 24, "labelOffset": 3, "columnPadding": 44}}
     }}
  ]
}
]
}
